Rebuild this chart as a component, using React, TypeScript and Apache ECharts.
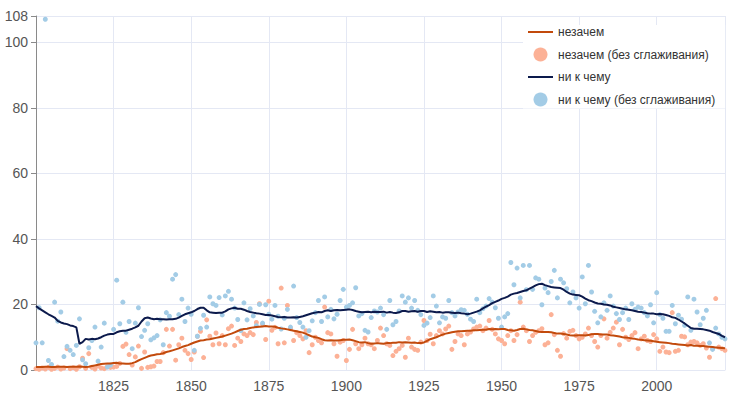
import React, { useEffect, useRef } from "react";
import * as echarts from "echarts";

const START_YEAR = 1800;
const END_YEAR = 2022;

const SERIES_NAMES = [
  "незачем",
  "незачем (без сглаживания)",
  "ни к чему",
  "ни к чему (без сглаживания)",
];

const X_TICKS = [1825, 1850, 1875, 1900, 1925, 1950, 1975, 2000];

// smoothed "ни к чему"
const nikchemuSmooth = [
  19.5, 18.8, 18.2, 17.6, 17.0, 16.5, 16.0, 15.0, 14.5, 14.2,
  14.0, 13.6, 13.4, 13.0, 8.0, 8.5, 9.5, 9.3, 9.5, 9.4,
  9.6, 10.0, 10.5, 10.8, 11.0, 11.0, 11.5, 11.8, 12.0, 12.0,
  12.3, 12.6, 13.0, 13.5, 14.8, 15.8, 16.0, 15.7, 15.5, 15.6,
  15.5, 15.5, 15.4, 15.5, 15.5, 15.6, 16.0, 16.5, 17.0, 17.3,
  17.6, 18.0, 18.6, 19.0, 19.0, 18.2, 17.6, 17.5, 17.4, 17.5,
  17.5, 17.9, 18.5, 18.8, 19.0, 18.7, 18.7, 18.4, 18.0, 17.7,
  17.5, 17.3, 17.2, 17.0, 16.8, 16.8, 16.6, 16.4, 16.2, 16.1,
  16.2, 16.0, 16.0, 16.1, 16.0, 16.2, 16.4, 16.7, 17.0, 17.3,
  17.5, 17.7, 17.6, 18.0, 18.2, 18.0, 18.2, 18.3, 18.2, 18.3,
  18.4, 18.5, 18.3, 18.0, 17.8, 17.6, 17.7, 17.8, 17.6, 17.8,
  17.7, 17.7, 17.8, 17.5, 17.7, 17.5, 17.4, 17.6, 18.0, 18.0,
  17.8, 17.9, 18.0, 17.8, 18.0, 18.0, 17.7, 17.9, 17.8, 17.6,
  17.7, 17.5, 17.6, 17.6, 17.5, 17.4, 17.5, 17.3, 17.2, 17.0,
  17.2, 17.5, 17.8, 18.2, 18.8, 19.3, 19.8, 20.4, 20.8, 21.2,
  21.7, 22.0, 22.4, 23.0, 23.3, 23.5, 23.8, 24.1, 24.3, 24.8,
  25.3, 25.8, 26.2, 26.3, 25.9, 25.6, 25.3, 25.2, 25.1, 25.0,
  24.5, 23.8, 23.3, 23.0, 22.9, 22.8, 22.4, 21.8, 21.3, 21.0,
  20.6, 20.3, 20.2, 20.0, 19.9, 19.7, 19.3, 19.1, 18.9, 18.7,
  18.5, 18.4, 18.2, 18.0, 17.8, 17.7, 17.5, 17.3, 17.2, 17.2,
  17.0, 17.1, 17.0, 16.8, 16.5, 16.1, 15.9, 15.4, 14.8, 14.2,
  13.5, 12.8, 12.6, 12.6, 12.5, 12.4, 12.2, 12.0, 11.6, 11.3,
  11.0, 10.4, 10.0,
];

// raw "ни к чему"
const nikchemuRaw = [
  8.3, 19.0, 8.3, 107.0, 2.9, 1.7, 20.7, 14.9, 17.7, 4.1,
  7.2, 6.0, 4.7, 7.5, 15.6, 3.1, 1.9, 6.8, 9.0, 13.1,
  2.7, 7.0, 14.3, 0.9, 1.5, 12.4, 27.4, 14.1, 20.7, 11.5,
  14.8, 6.5, 14.3, 19.0, 10.2, 12.1, 14.1, 9.2, 9.8, 10.5,
  15.3, 7.7, 17.5, 16.4, 27.7, 29.1, 16.9, 21.6, 14.8, 18.9,
  17.0, 6.0, 10.3, 12.7, 16.7, 13.1, 22.3, 20.2, 19.7, 22.1,
  16.8, 22.6, 24.0, 21.6, 18.9, 15.4, 12.0, 20.5, 15.3, 18.7,
  16.5, 13.5, 20.0, 14.3, 19.9, 17.0, 15.5, 19.7, 16.4, 12.5,
  15.8, 18.5, 13.1, 25.6, 16.0, 14.5, 13.1, 10.0, 12.0, 15.0,
  17.5, 21.2, 14.8, 22.3, 16.2, 18.5, 15.6, 17.0, 21.2, 24.6,
  19.2, 19.7, 20.5, 25.1, 16.5, 17.2, 12.1, 11.6, 16.0, 18.0,
  17.7, 18.9, 16.9, 12.4, 21.2, 13.8, 14.8, 18.0, 22.6, 20.7,
  22.0, 18.9, 21.2, 18.2, 16.9, 13.6, 14.3, 16.0, 22.6, 19.5,
  14.4, 16.2, 15.8, 21.2, 17.5, 16.5, 17.7, 18.4, 18.2, 17.0,
  15.5, 14.8, 21.6, 17.5, 18.7, 19.5, 21.8, 20.7, 19.0, 15.8,
  13.1, 16.2, 17.2, 32.8, 26.0, 31.1, 22.0, 31.9, 24.5, 31.9,
  24.6, 28.1, 27.7, 19.9, 25.0, 23.6, 27.0, 30.4, 22.0, 27.7,
  26.6, 24.8, 20.5, 23.8, 22.0, 18.9, 28.4, 20.2, 31.9, 23.8,
  17.9, 14.4, 16.2, 20.5, 18.2, 22.6, 19.5, 17.2, 15.4, 17.5,
  18.9, 15.4, 20.2, 18.5, 19.2, 18.9, 17.5, 16.5, 19.9, 14.4,
  23.6, 16.9, 15.8, 11.8, 11.8, 19.7, 14.1, 16.7, 15.5, 13.6,
  22.3, 12.1, 21.6, 17.7, 13.8, 15.8, 18.2, 8.3, 6.3, 12.8,
  11.0, 10.0, 9.5,
];

// smoothed "незачем"
const nezachemSmooth = [
  0.9, 0.9, 0.9, 1.0, 1.0, 0.9, 0.9, 1.0, 1.0, 1.0,
  0.9, 1.0, 1.0, 1.0, 1.1, 1.0, 0.9, 1.0, 1.2, 1.4,
  1.6, 1.8, 1.9, 2.0, 2.0, 2.1, 2.2, 2.0, 2.0, 1.9,
  1.9, 2.1, 2.4, 2.9, 3.3, 3.7, 4.1, 4.4, 4.6, 4.8,
  4.9, 5.1, 5.5, 5.7, 6.0, 6.3, 6.6, 7.0, 7.3, 7.6,
  8.0, 8.4, 8.7, 9.0, 9.1, 9.3, 9.4, 9.6, 9.8, 10.0,
  10.2, 10.5, 10.8, 11.1, 11.5, 11.9, 12.3, 12.5, 12.6, 12.8,
  13.0, 13.1, 13.2, 13.3, 13.4, 13.3, 13.3, 13.2, 12.9, 12.7,
  12.6, 12.4, 12.2, 12.0, 11.8, 11.6, 11.4, 11.0, 10.6, 10.2,
  10.0, 9.8, 9.4, 9.1, 9.0, 9.1, 9.0, 9.0, 9.1, 9.2,
  9.2, 9.3, 9.1, 8.8, 8.5, 8.4, 8.5, 8.2, 8.0, 8.1,
  8.2, 8.1, 8.0, 8.2, 8.2, 8.3, 8.3, 8.5, 8.4, 8.5,
  8.4, 8.3, 8.4, 8.2, 8.2, 8.4, 8.9, 9.4, 9.7, 10.0,
  10.4, 10.8, 11.1, 11.3, 11.5, 11.7, 11.8, 11.8, 11.9, 12.0,
  12.0, 12.1, 12.1, 12.2, 12.3, 12.3, 12.5, 12.4, 12.5, 12.4,
  12.5, 12.5, 12.2, 12.1, 12.0, 12.2, 12.5, 12.6, 12.4, 12.2,
  12.1, 11.9, 11.7, 11.6, 11.6, 11.6, 11.5, 11.3, 11.1, 11.1,
  11.0, 10.8, 10.6, 10.5, 10.5, 10.6, 10.6, 10.5, 10.7, 10.9,
  11.0, 11.0, 10.8, 10.8, 10.8, 10.6, 10.5, 10.4, 10.2, 10.0,
  9.9, 9.8, 9.6, 9.5, 9.3, 9.2, 9.1, 9.0, 8.9, 8.8,
  8.6, 8.5, 8.4, 8.3, 8.2, 8.0, 7.9, 7.8, 7.7, 7.6,
  7.5, 7.6, 7.4, 7.4, 7.3, 7.3, 7.2, 7.1, 7.0, 6.9,
  6.8, 6.7, 6.6,
];

// raw "незачем"
const nezachemRaw = [
  0.4, 0.2, 0.6, 0.3, 0.8, 0.2, 0.5, 0.9, 0.3, 0.6,
  6.5, 0.4, 0.7, 0.2, 1.0, 3.6, 0.5, 5.0, 0.8, 0.3,
  1.2, 0.6, 0.4, 1.0, 0.8, 0.9, 1.1, 2.0, 7.2, 7.9,
  4.7, 1.5, 4.0, 7.3, 0.5, 5.5, 0.8, 1.0, 1.2, 2.6,
  2.6, 5.3, 12.4, 7.3, 12.4, 3.0, 7.7, 9.7, 6.0, 5.0,
  3.2, 5.5, 10.3, 11.8, 3.8, 15.3, 10.3, 7.7, 11.3, 8.0,
  10.5, 7.7, 12.6, 13.4, 7.5, 9.7, 8.7, 11.0, 10.5, 11.4,
  10.8, 14.5, 20.2, 14.0, 9.3, 21.0, 12.1, 13.0, 8.0, 25.0,
  8.3, 19.7, 12.6, 9.0, 11.4, 10.5, 9.5, 12.0, 5.3, 7.7,
  10.0, 9.0, 8.3, 19.2, 11.4, 11.0, 8.0, 4.2, 8.5, 9.0,
  2.9, 6.3, 12.4, 8.0, 6.5, 7.7, 9.7, 8.0, 7.7, 6.5,
  9.0, 12.8, 10.5, 8.0, 7.5, 4.4, 5.7, 6.5, 7.5, 3.9,
  9.7, 7.0, 6.3, 6.0, 8.5, 15.1, 9.0, 10.9, 8.0, 10.5,
  12.0, 11.0, 12.5, 13.4, 6.3, 8.7, 11.0, 10.5, 7.7, 11.0,
  11.6, 12.5, 13.1, 13.4, 12.0, 12.8, 15.1, 12.4, 11.0, 9.5,
  9.0, 8.0, 10.5, 12.0, 9.0, 10.8, 20.7, 13.1, 12.0, 8.7,
  10.5, 11.5, 12.0, 12.6, 7.7, 8.3, 16.9, 10.8, 6.0, 4.2,
  11.1, 9.7, 11.8, 12.1, 10.5, 9.5, 10.0, 11.0, 12.8, 10.5,
  8.7, 7.0, 10.5, 15.6, 9.7, 11.5, 12.8, 14.6, 7.7, 12.4,
  10.0, 9.3, 10.5, 11.4, 6.5, 9.5, 10.3, 9.0, 8.7, 10.8,
  9.5, 5.7, 7.0, 5.5, 5.3, 17.5, 5.7, 6.0, 10.3, 10.1,
  7.7, 8.5, 8.7, 8.3, 7.5, 8.0, 6.7, 3.9, 6.5, 21.8,
  7.0, 6.5, 6.0,
];

const COLORS = {
  nezachemLine: "#c24a0c",
  nezachemDots: "#fcb196",
  nikchemuLine: "#0c1a4c",
  nikchemuDots: "#a3cce6",
};

const LINE_ICON = "path://M0,0 L25,0 L25,2 L0,2 Z";

const toPairs = (vals: number[]) =>
  vals.map((v, i) => [START_YEAR + i, v] as [number, number]);

export default function App() {
  const ref = useRef<HTMLDivElement>(null);

  useEffect(() => {
    document.body.style.margin = "0";
    if (!ref.current) return;
    const chart = echarts.init(ref.current, null, { renderer: "svg" });
    const font = "'Liberation Sans', Arial, Helvetica, sans-serif";
    const gridColor = "#e4e8f4";

    chart.setOption({
      animation: false,
      textStyle: { fontFamily: font },
      grid: { left: 36, right: 12, top: 16, bottom: 29, containLabel: false },
      legend: {
        orient: "vertical",
        left: 523,
        top: 25,
        padding: [1, 10, 2, 5],
        backgroundColor: "#ffffff",
        itemWidth: 25,
        itemHeight: 14,
        itemGap: 9.5,
        symbolKeepAspect: true,
        textStyle: { fontSize: 12, color: "#333", fontFamily: font },
        data: [
          { name: SERIES_NAMES[0], icon: LINE_ICON },
          { name: SERIES_NAMES[1], icon: "circle" },
          { name: SERIES_NAMES[2], icon: LINE_ICON },
          { name: SERIES_NAMES[3], icon: "circle" },
        ],
      },
      xAxis: {
        type: "value",
        min: START_YEAR,
        max: END_YEAR,
        interval: 25,
        axisLine: { show: true, lineStyle: { color: gridColor } },
        axisTick: { show: false },
        axisLabel: {
          color: "#555",
          fontSize: 14,
          margin: 9,
          fontFamily: font,
          formatter: (v: number) => (X_TICKS.includes(v) ? String(v) : ""),
        },
        splitLine: { show: true, lineStyle: { color: gridColor, width: 1 } },
      },
      yAxis: {
        type: "value",
        min: 0,
        max: 108,
        interval: 20,
        axisLine: { show: true, lineStyle: { color: "#8a8a8a" } },
        axisTick: { show: true, length: 5, lineStyle: { color: "#8a8a8a" } },
        axisLabel: { color: "#555", fontSize: 14, margin: 8, fontFamily: font },
        splitLine: { show: true, lineStyle: { color: gridColor, width: 1 } },
      },
      series: [
        {
          name: SERIES_NAMES[0],
          type: "line",
          data: toPairs(nezachemSmooth),
          symbol: "none",
          z: 3,
          lineStyle: { color: COLORS.nezachemLine, width: 2 },
          itemStyle: { color: COLORS.nezachemLine },
        },
        {
          name: SERIES_NAMES[1],
          type: "scatter",
          data: toPairs(nezachemRaw),
          symbolSize: 5,
          z: 2,
          itemStyle: { color: COLORS.nezachemDots, opacity: 1 },
        },
        {
          name: SERIES_NAMES[2],
          type: "line",
          data: toPairs(nikchemuSmooth),
          symbol: "none",
          z: 3,
          lineStyle: { color: COLORS.nikchemuLine, width: 2 },
          itemStyle: { color: COLORS.nikchemuLine },
        },
        {
          name: SERIES_NAMES[3],
          type: "scatter",
          data: toPairs(nikchemuRaw),
          symbolSize: 5,
          z: 2,
          itemStyle: { color: COLORS.nikchemuDots, opacity: 1 },
        },
      ],
    });

    return () => chart.dispose();
  }, []);

  return <div ref={ref} style={{ width: 737, height: 399 }} />;
}
